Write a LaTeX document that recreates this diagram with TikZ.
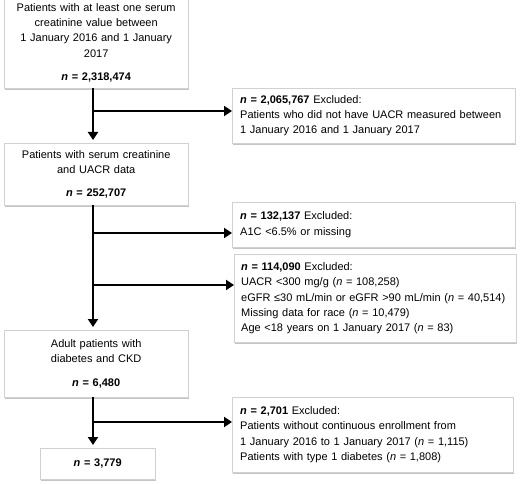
\documentclass[tikz,border=0pt]{standalone}
\usepackage{fontspec}
\setmainfont{Liberation Sans}
\usepackage{tikz}
\usetikzlibrary{arrows.meta, positioning, shadows}

\newcommand{\nn}{\textit{n}}
\newcommand{\nb}{\textbf{\textit{n}}}

\begin{document}
\begin{tikzpicture}[
  x=1pt, y=-1pt,
  box/.style={rectangle, draw=black!18, fill=white, anchor=north west, align=center, inner xsep=6pt,
    font=\fontsize{11}{15.3}\selectfont, drop shadow={shadow xshift=1.2pt, shadow yshift=-1.5pt, fill=black!45}},
  excl/.style={box, align=left, inner xsep=8pt},
  arr/.style={-{Triangle[length=8pt, width=10pt]}, line width=2.6pt}
]
\useasboundingbox (0,0) rectangle (520,484);
\node[box, minimum width=184pt, minimum height=91pt, text width=172pt] (a) at (4,-3)
  {Patients with at least one serum\\ creatinine value between\\ 1 January 2016 and 1 January\\ 2017\\[8pt] \nb\ \textbf{= 2,318,474}};
\node[excl, minimum width=283pt, minimum height=55pt, text width=267pt] (b) at (232,88)
  {\nb\ \textbf{= 2,065,767} Excluded:\\ Patients who did not have UACR measured between\\ 1 January 2016 and 1 January 2017};
\node[box, minimum width=184pt, minimum height=62pt, text width=172pt] (c) at (4,143)
  {Patients with serum creatinine\\ and UACR data\\[8pt] \nb\ \textbf{= 252,707}};
\node[excl, minimum width=283pt, minimum height=45pt, text width=267pt] (d) at (232,202)
  {\nb\ \textbf{= 132,137} Excluded:\\ A1C <6.5\% or missing};
\node[excl, minimum width=282pt, minimum height=88pt, text width=268pt, inner xsep=7pt] (e) at (234,254)
  {\nb\ \textbf{= 114,090} Excluded:\\ UACR <300 mg/g (\nn\ = 108,258)\\ eGFR ≤30 mL/min or eGFR >90 mL/min (\nn\ = 40,514)\\ Missing data for race (\nn\ = 10,479)\\ Age <18 years on 1 January 2017 (\nn\ = 83)};
\node[box, minimum width=184pt, minimum height=67pt, text width=172pt] (f) at (4,330)
  {Adult patients with\\ diabetes and CKD\\[8pt] \nb\ \textbf{= 6,480}};
\node[excl, minimum width=281pt, minimum height=75pt, text width=265pt] (g) at (232,397)
  {\nb\ \textbf{= 2,701} Excluded:\\ Patients without continuous enrollment from\\ 1 January 2016 to 1 January 2017 (\nn\ = 1,115)\\ Patients with type 1 diabetes (\nn\ = 1,808)};
\node[box, minimum width=115pt, minimum height=31pt, text width=103pt] (h) at (40,448)
  {\nb\ \textbf{= 3,779}};
% branch points on the trunk
\coordinate (ab) at (93,111);
\coordinate (cd) at (93,233);
\coordinate (ce) at (93,285);
\coordinate (fg) at (93,422);
\foreach \x/\y in {a/c,c/f,f/h} \draw[arr, shorten >=3pt] (\x.south -| ab) -- (\y.north -| ab);
\foreach \p/\q in {ab/b,cd/d,ce/e,fg/g} \draw[arr] (\p) -- (\p -| \q.west);
\end{tikzpicture}
\end{document}
